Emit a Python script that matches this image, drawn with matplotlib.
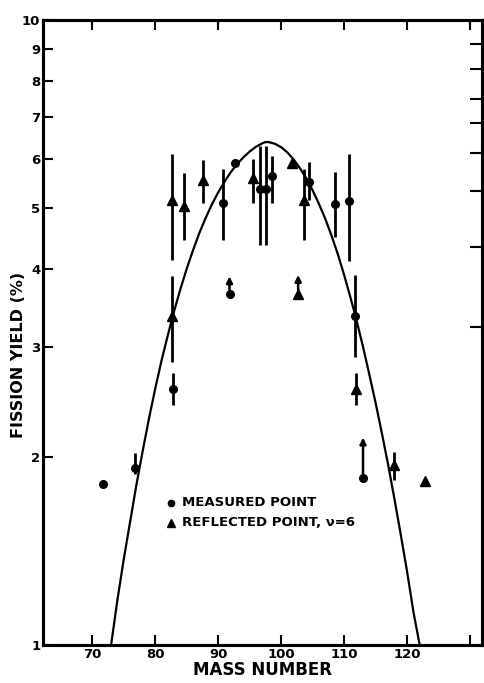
import numpy as np
import matplotlib
matplotlib.use("Agg")
import matplotlib.pyplot as plt

plt.rcParams['font.family'] = ['DejaVu Sans']
plt.rcParams['font.weight'] = 'bold'

# measured points (circles) with asymmetric error bars (nan = no bar)
meas_x = [71.7, 76.8, 82.8, 90.7, 92.6, 96.7, 97.6, 98.5, 104.5, 108.6, 110.7, 111.8]
meas_y = [1.81, 1.92, 2.57, 5.10, 5.90, 5.36, 5.36, 5.64, 5.51, 5.08, 5.14, 3.36]
meas_lo = [np.nan, 1.88, 2.42, 4.45, np.nan, 4.37, 4.37, 5.10, 5.16, 4.50, 4.12, 2.89]
meas_hi = [np.nan, 2.03, 2.72, 5.78, np.nan, 6.29, 6.29, 6.06, 5.93, 5.72, 6.10, 3.91]

# measured lower limits (circle + up arrow)
meas_lim_x = [91.8, 113.0]
meas_lim_y = [3.64, 1.85]
meas_lim_to = [3.93, 2.17]

# reflected points (triangles)
refl_x = [82.6, 84.6, 87.6, 95.5, 101.8, 103.7, 82.6, 111.9, 117.9, 122.8]
refl_y = [5.15, 5.04, 5.55, 5.59, 5.90, 5.15, 3.36, 2.57, 1.94, 1.83]
refl_lo = [4.13, 4.45, 5.09, 5.10, np.nan, 4.45, 2.84, 2.42, 1.84, np.nan]
refl_hi = [6.10, 5.69, 5.97, 5.99, np.nan, 5.78, 3.89, 2.72, 2.04, np.nan]

refl_lim_x = [102.7]
refl_lim_y = [3.64]
refl_lim_to = [3.95]

# fitted curve
curve_x = [73, 74, 75, 76, 77, 78, 79, 80, 81, 82, 83, 84, 85, 86, 87, 88, 89, 90, 91, 92,
           93, 94, 95, 96, 97, 97.5, 98, 99, 100, 101, 102, 103, 104, 105, 106, 107, 108,
           109, 110, 111, 112, 113, 114, 115, 116, 117, 118, 119, 120, 121, 122]
curve_y = [1.0, 1.18, 1.37, 1.57, 1.80, 2.04, 2.30, 2.57, 2.85, 3.13, 3.42, 3.71, 4.00,
           4.28, 4.56, 4.82, 5.07, 5.30, 5.51, 5.71, 5.88, 6.03, 6.16, 6.27, 6.35, 6.38,
           6.38, 6.34, 6.26, 6.14, 5.98, 5.79, 5.58, 5.34, 5.08, 4.81, 4.52, 4.22, 3.91,
           3.60, 3.30, 3.00, 2.71, 2.44, 2.18, 1.94, 1.71, 1.50, 1.31, 1.13, 1.0]

x_ticks = [70, 80, 90, 100, 110, 120, 130]
x_labels = ['70', '80', '90', '100', '110', '120', '']
y_ticks = [1, 2, 3, 4, 5, 6, 7, 8, 9, 10]
right_ticks = [3.23, 4.33, 5.32, 6.12, 6.84, 7.48, 8.35, 9.17]

fig = plt.figure(figsize=(4.84, 6.83), dpi=100)
ax = fig.add_axes([0.089, 0.0556, 0.907, 0.915])
ax.set_yscale('log')
ax.set_xlim(62.2, 131.9)
ax.set_ylim(1, 10)

ax.plot(curve_x, curve_y, color='black', lw=1.6)

def yerr(y, lo, hi):
    y = np.array(y); lo = np.array(lo); hi = np.array(hi)
    return [np.nan_to_num(y - lo), np.nan_to_num(hi - y)]

ax.errorbar(meas_x, meas_y, yerr=yerr(meas_y, meas_lo, meas_hi), fmt='o', color='black',
            ms=5.5, elinewidth=2, capsize=0)
ax.errorbar(refl_x, refl_y, yerr=yerr(refl_y, refl_lo, refl_hi), fmt='^', color='black',
            ms=7, elinewidth=2, capsize=0)

ax.plot(meas_lim_x, meas_lim_y, 'o', color='black', ms=5.5)
ax.plot(refl_lim_x, refl_lim_y, '^', color='black', ms=7)
for x, y, t in zip(meas_lim_x + refl_lim_x, meas_lim_y + refl_lim_y, meas_lim_to + refl_lim_to):
    ax.annotate('', xy=(x, t), xytext=(x, y),
                arrowprops=dict(arrowstyle='-|>', color='black', lw=1.8, mutation_scale=9))

# legend drawn as text
ax.plot([82.5], [1.69], 'o', color='black', ms=4.5)
ax.plot([82.5], [1.57], '^', color='black', ms=6)
ax.text(84.3, 1.69, 'MEASURED POINT', fontsize=9.5, fontweight='bold', va='center')
ax.text(84.3, 1.57, 'REFLECTED POINT, ν=6', fontsize=9.5, fontweight='bold', va='center')

ax.set_xticks(x_ticks)
ax.set_xticklabels(x_labels)
ax.set_yticks(y_ticks)
ax.set_yticklabels([str(v) for v in y_ticks])
ax.minorticks_off()
ax.tick_params(axis='both', direction='in', width=1.5, length=7, labelsize=9.5, pad=2)
ax.tick_params(axis='x', top=True)
ax.tick_params(axis='y', pad=2)

ax2 = ax.twinx()
ax2.set_yscale('log')
ax2.set_ylim(1, 10)
ax2.set_yticks(right_ticks)
ax2.minorticks_off()
ax2.set_yticklabels([])
ax2.tick_params(axis='y', direction='in', width=1.5, length=9)

for a in (ax, ax2):
    for s in a.spines.values():
        s.set_linewidth(2.2)

ax.set_xlabel('MASS NUMBER', fontsize=12, fontweight='bold', labelpad=0)
fig.text(19 / 484, 1 - 355 / 683, 'FISSION YIELD (%)', rotation=90, fontsize=11.5,
         fontweight='bold', ha='center', va='center')

fig.savefig('out.png', dpi=100)
